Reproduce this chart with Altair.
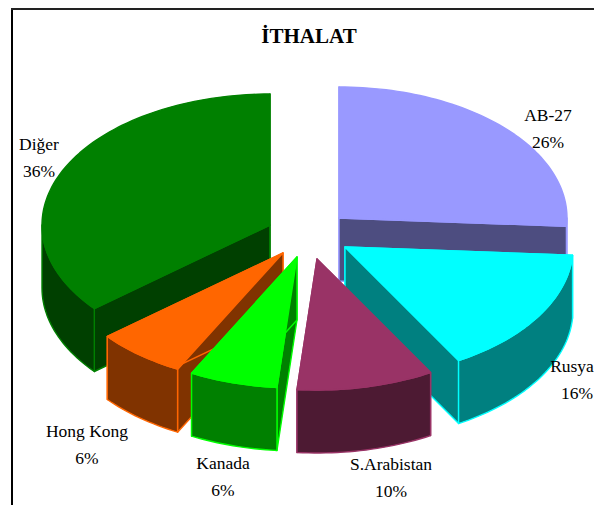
import math
import altair as alt

# ---- chart values ----
labels = ["AB-27", "Rusya", "S.Arabistan", "Kanada", "Hong Kong", "Diğer"]
shares = [26.0, 15.7, 9.7, 6.25, 6.35, 36.0]
top_colors = ["#9999FF", "#00FFFF", "#993366", "#00FF00", "#FF6600", "#008000"]
side_colors = ["#4D4D80", "#008080", "#4D1A33", "#008000", "#803300", "#004000"]

# ---- layout (page pixels) ----
PAGE = 8
RX, RY, DEPTH = 228, 131, 63
apex = {
    "AB-27": (339, 218), "Rusya": (345, 247), "S.Arabistan": (317, 259),
    "Kanada": (297, 257), "Hong Kong": (283, 253), "Diğer": (270, 225),
}
label_pos = {
    "AB-27": (548, 116), "Rusya": (572, 367), "S.Arabistan": (391, 465),
    "Kanada": (223, 464), "Hong Kong": (87, 432), "Diğer": (39, 145),
}
pct_shift = {"Rusya": 5}
LINE_GAP = 26.5
draw_order = ["AB-27", "Diğer", "Rusya", "Hong Kong", "Kanada", "S.Arabistan"]


def rim(cx, cy, deg):
    a = math.radians(deg)
    return [cx + RX * math.sin(a), cy - RY * math.cos(a)]


def arc(cx, cy, a0, a1):
    n = max(2, int(abs(a1 - a0) / 1.5) + 1)
    return [rim(cx, cy, a0 + (a1 - a0) * i / n) for i in range(n + 1)]


def down(pts):
    return [[x, y + DEPTH] for x, y in pts]


def feature(ring, fill, stroke):
    ring = ring + [ring[0]]
    return {
        "type": "Feature",
        "geometry": {"type": "Polygon", "coordinates": [ring]},
        "properties": {"fill": fill, "stroke": stroke},
    }


spans = {}
start = 0.0
for name, share in zip(labels, shares):
    end = start + share * 3.6
    spans[name] = (start, end)
    start = end

features = []
for name in draw_order:
    i = labels.index(name)
    a0, a1 = spans[name]
    cx, cy = apex[name]
    top, side = top_colors[i], side_colors[i]
    for edge in (a0, a1):
        p = rim(cx, cy, edge)
        features.append(feature([[cx, cy], p, [p[0], p[1] + DEPTH], [cx, cy + DEPTH]], side, top))
    lo, hi = max(a0, 90), min(a1, 270)
    if lo < hi:
        upper = arc(cx, cy, lo, hi)
        features.append(feature(upper + down(upper)[::-1], side, top))
    features.append(feature([[cx, cy]] + arc(cx, cy, a0, a1), top, top))

pie = (
    alt.Chart(alt.Data(values=features))
    .mark_geoshape(strokeWidth=1.4, strokeJoin="round")
    .encode(
        fill=alt.Fill("properties.fill:N", scale=None),
        stroke=alt.Stroke("properties.stroke:N", scale=None),
    )
    .project(type="identity", scale=1, translate=[-PAGE, -PAGE])
)

rows = []
for name, share in zip(labels, shares):
    x, y = label_pos[name]
    rows.append({"t": name, "x": x - PAGE, "y": y - PAGE})
    rows.append({"t": f"{round(share)}%", "x": x + pct_shift.get(name, 0) - PAGE, "y": y + LINE_GAP - PAGE})

text = (
    alt.Chart(alt.Data(values=rows))
    .mark_text(font="Liberation Serif", fontSize=17.5, color="#000000", align="center", baseline="middle")
    .encode(
        x=alt.X("x:Q", scale=None, axis=None),
        y=alt.Y("y:Q", scale=None, axis=None),
        text="t:N",
    )
)

frame_left = alt.Chart(alt.Data(values=[{"a": 0}])).mark_rule(color="#000000", strokeWidth=2).encode(x=alt.value(4))
frame_top = alt.Chart(alt.Data(values=[{"a": 0}])).mark_rule(color="#222222", strokeWidth=2).encode(
    y=alt.value(1), x=alt.value(3), x2=alt.value(586)
)

chart = (
    alt.layer(pie, text, frame_left, frame_top)
    .properties(
        width=586,
        height=497,
        padding=0,
        autosize=alt.AutoSizeParams(type="none"),
        title=alt.TitleParams(
            "İTHALAT", font="Liberation Serif", fontSize=21, fontWeight="bold",
            color="#000000", anchor="middle", dx=8, dy=55, baseline="middle",
        ),
    )
    .configure_view(stroke=None)
)

chart.save("out.html", embed_options={"renderer": "svg", "actions": False})
